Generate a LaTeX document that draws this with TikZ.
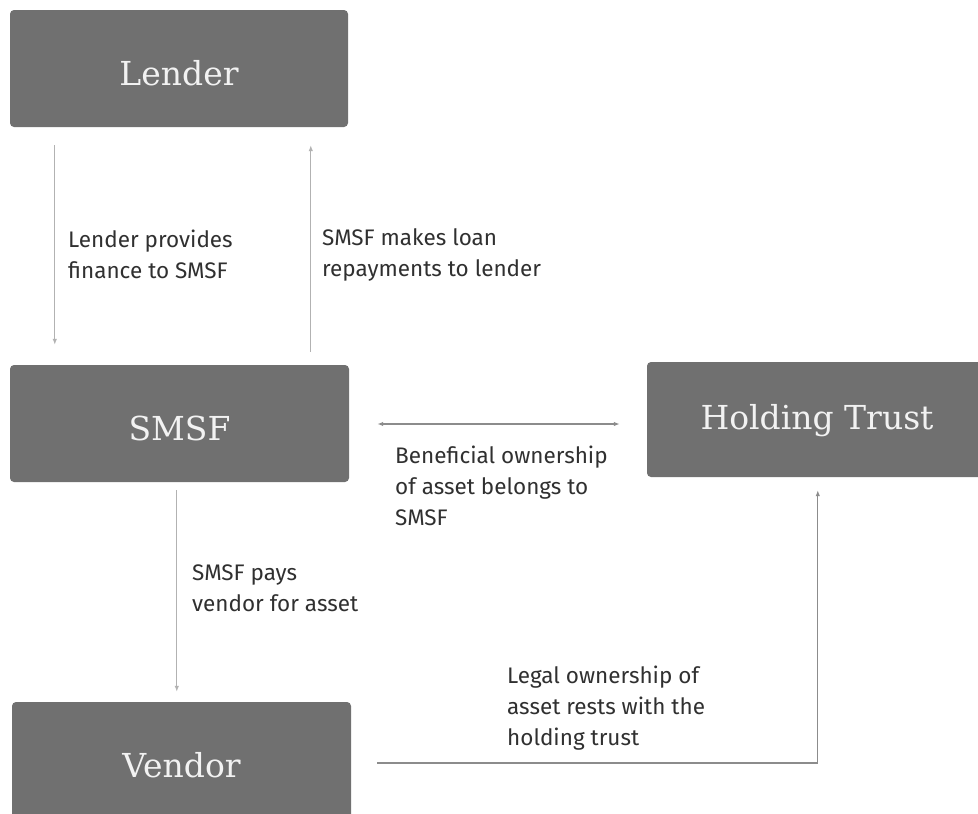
\documentclass[tikz,border=0pt]{standalone}
\usepackage{fontspec}
\setmainfont{Fira Sans}
\newfontfamily\boxfont{DejaVu Serif}
\usetikzlibrary{arrows.meta,calc}
\definecolor{boxgray}{RGB}{112,112,112}
\definecolor{boxtext}{RGB}{242,242,242}
\definecolor{linegray}{RGB}{178,178,178}
\definecolor{darkline}{RGB}{140,140,140}
\definecolor{labeltext}{RGB}{48,48,48}
\begin{document}
\begin{tikzpicture}[x=1pt,y=-1pt,
  box/.style={fill=boxgray, rounded corners=4pt, inner sep=0pt, text=boxtext,
    font=\boxfont\fontsize{33}{40}\selectfont, text depth=0pt, text height=33pt},
  conn/.style={draw=linegray, line width=1.2pt, -{Latex[length=6pt,width=4.5pt]}},
  lbl/.style={anchor=north west, inner sep=0pt, align=left, text=labeltext,
    font=\fontsize{22.5}{31}\selectfont}]
\useasboundingbox (0,0) rectangle (978,814);
\clip (0,0) rectangle (978,814);
\fill[white] (0,0) rectangle (978,814);

\node[box, minimum width=338, minimum height=117] (lender) at (179,68.5) {Lender};
\node[box, minimum width=339, minimum height=117] (smsf) at (179.5,423.5) {SMSF};
\node[box, minimum width=340, minimum height=115, text height=20pt] (trust) at (817,419.5) {Holding Trust};
\node[box, minimum width=339, minimum height=118] (vendor) at (181.5,761) {Vendor};

\draw[conn] ($(lender.south west)+(45,18)$) -- ($(smsf.north west)+(45,-20)$);
\draw[conn] ($(smsf.north west)+(301,-13)$) -- ($(lender.south west)+(301,18)$);
\draw[conn, draw=darkline, {Latex[length=6pt,width=4.5pt]}-{Latex[length=6pt,width=4.5pt]}]
  ($(smsf.east)+(28,0.5)$) -- ($(smsf.east -| trust.west)+(-27,0.5)$);
\draw[conn] ($(smsf.south west)+(167,8)$) -- ($(vendor.north west)+(165,-10)$);
\draw[conn, draw=darkline] ($(vendor.east)+(26,2)$) -| ($(trust.south west)+(171,13)$);

\node[lbl] (l1) at (68,230) {Lender provides\\finance to SMSF};
\node[lbl] (l2) at (322,228) {SMSF makes loan\\repayments to lender};
\node[lbl] (l3) at (395,446) {Beneficial ownership\\of asset belongs to\\SMSF};
\node[lbl] (l4) at (192,565) {SMSF pays\\vendor for asset};
\node[lbl] (l5) at (507,666) {Legal ownership of\\asset rests with the\\holding trust};
\end{tikzpicture}
\end{document}
